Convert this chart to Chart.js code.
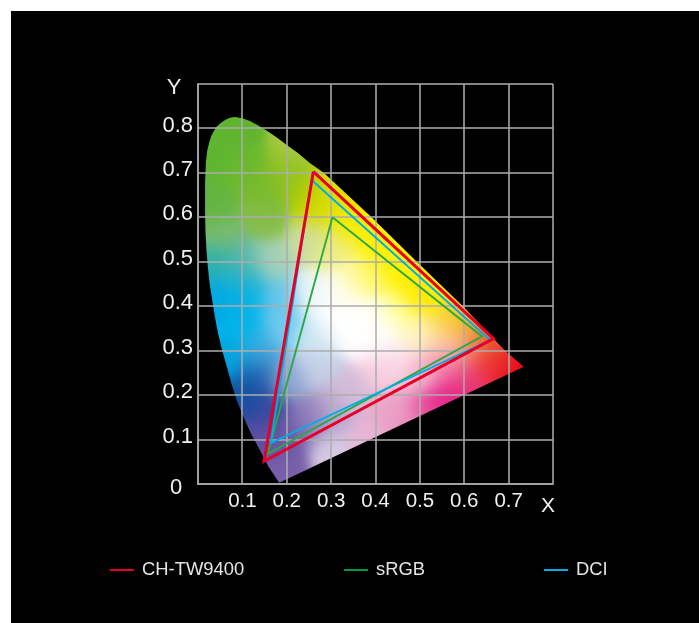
<!DOCTYPE html>
<html>
<head>
<meta charset="utf-8">
<style>
  html, body { margin: 0; padding: 0; background: #fff; overflow: hidden; }
  #frame { position: absolute; left: 11px; top: 11px; width: 688px; height: 612px; background: #000; }
  #chart { position: absolute; left: 0; top: 0; }
  .key { position: absolute; top: 546px; height: 24px; line-height: 24px; color: #e4e4e4; font: 18.4px/24px "Liberation Sans", sans-serif; white-space: nowrap; }
  .key i { position: absolute; left: 0; top: 11.5px; width: 24px; height: 2.4px; }
  .key span { position: absolute; }
</style>
</head>
<body>
<div id="frame">
  <canvas id="chart" width="688" height="612"></canvas>
</div>
<script src="https://cdn.jsdelivr.net/npm/chart.js@4"></script>
<script>
// ── DATA ─────────────────────────────────────────────────────────────────────
const xTicks = ['0.1', '0.2', '0.3', '0.4', '0.5', '0.6', '0.7'];
const yTicks = ['0.1', '0.2', '0.3', '0.4', '0.5', '0.6', '0.7', '0.8'];

const seriesNames = ['CH-TW9400', 'sRGB', 'DCI'];
const twX   = [0.260, 0.666, 0.149, 0.260];
const twY   = [0.703, 0.327, 0.051, 0.703];
const srgbX = [0.303, 0.640, 0.157, 0.303];
const srgbY = [0.600, 0.332, 0.068, 0.600];
const dciX  = [0.256, 0.658, 0.164, 0.256];
const dciY  = [0.684, 0.324, 0.092, 0.684];

// spectral locus outline, clockwise from the blue end
const locusX = [0.183, 0.159, 0.139, 0.119, 0.102, 0.087, 0.075, 0.065, 0.054, 0.045, 0.038, 0.032, 0.026, 0.022, 0.019, 0.017,
                0.016, 0.016, 0.016, 0.018, 0.021, 0.025, 0.029, 0.035, 0.042, 0.051, 0.061, 0.072, 0.083, 0.100, 0.117, 0.135, 0.155, 0.177,
                0.200, 0.225, 0.252, 0.284, 0.391, 0.493, 0.597, 0.692, 0.734];
const locusY = [0.003, 0.039, 0.077, 0.114, 0.152, 0.189, 0.227, 0.264, 0.302, 0.340, 0.377, 0.414, 0.452, 0.490, 0.527, 0.565,
                0.603, 0.640, 0.680, 0.727, 0.751, 0.767, 0.781, 0.793, 0.804, 0.812, 0.819, 0.824, 0.826, 0.823, 0.817, 0.807, 0.795, 0.780,
                0.763, 0.745, 0.722, 0.700, 0.600, 0.500, 0.400, 0.300, 0.264];

// ── STYLE ────────────────────────────────────────────────────────────────────
const seriesColors = ['#e60027', '#2ca845', '#00aee3'];
const seriesWidths = [3, 1.9, 1.9];
const keyColors = ['#e60027', '#009a44', '#00aee3'];
const keyLeft = [99, 333, 533];
const keyGap = [32, 32, 32];
const GRID = 'rgba(172,172,172,0.76)';
const FONT = '"Liberation Sans", sans-serif';

// colour samples of the horseshoe: x, y, hex
const shade = [
  [0.05,0.75,'#5cb531'],[0.03,0.62,'#62b540'],[0.10,0.72,'#6cb92e'],[0.08,0.80,'#5fb52e'],[0.20,0.70,'#8fc31f'],[0.24,0.66,'#a8c90a'],
  [0.15,0.60,'#86bd4a'],[0.15,0.66,'#78ba2e'],[0.05,0.56,'#7dbb70'],[0.27,0.62,'#d8dc00'],[0.22,0.76,'#a5c840'],[0.25,0.55,'#c8dca0'],
  [0.04,0.50,'#25b0b0'],[0.10,0.50,'#5bb9a8'],[0.16,0.50,'#a8d2b8'],[0.10,0.46,'#1cb0d0'],
  [0.05,0.42,'#00a9e5'],[0.11,0.42,'#00b4ea'],[0.10,0.35,'#00b5ea'],[0.18,0.42,'#6ac6ea'],[0.19,0.35,'#70caee'],[0.07,0.28,'#00a5e0'],[0.14,0.30,'#40a8dc'],
  [0.26,0.43,'#e8f4f8'],[0.32,0.36,'#ffffff'],[0.36,0.38,'#ffffff'],[0.26,0.33,'#d4eaf5'],[0.30,0.42,'#ffffff'],[0.40,0.33,'#ffffff'],
  [0.10,0.20,'#0f4fa0'],[0.13,0.24,'#1c5dac'],[0.15,0.17,'#3a479f'],[0.20,0.24,'#8fa5d3'],[0.26,0.27,'#c5cfe6'],[0.14,0.10,'#5d4ea0'],
  [0.20,0.10,'#6b57a5'],[0.19,0.03,'#7a5fab'],[0.25,0.14,'#8b78b6'],[0.30,0.16,'#b5a3d0'],[0.30,0.08,'#d5cbe5'],[0.34,0.20,'#d5bdd9'],
  [0.42,0.26,'#f6c8dc'],[0.50,0.25,'#f6b6d0'],[0.44,0.16,'#eba6c9'],[0.52,0.16,'#e8479a'],[0.56,0.19,'#e61f8a'],[0.60,0.24,'#e9377a'],[0.56,0.27,'#f27aa5'],
  [0.38,0.10,'#e9b5d5'],[0.47,0.13,'#e890bd'],
  [0.65,0.28,'#ea2b3a'],[0.70,0.28,'#e8202a'],[0.73,0.265,'#e60012'],[0.66,0.32,'#ee6030'],[0.61,0.31,'#f6a08c'],[0.62,0.34,'#f09a20'],[0.67,0.31,'#ea3a22'],
  [0.50,0.42,'#ffe900'],[0.41,0.54,'#fff000'],[0.33,0.59,'#f4ec00'],[0.45,0.50,'#fff100'],[0.53,0.44,'#fff000'],[0.60,0.38,'#f6c41b'],[0.56,0.36,'#fad540'],
  [0.45,0.38,'#ffff90'],[0.50,0.34,'#fff3c0'],[0.42,0.35,'#ffffff'],[0.38,0.47,'#fff75a'],[0.34,0.45,'#fffbd0'],[0.44,0.29,'#fde6ef'],[0.56,0.31,'#fbd0c8'],
  [0.30,0.53,'#f0ee80'],[0.30,0.66,'#e0de00']
].map(([x, y, hex]) => [x, y, parseInt(hex.slice(1, 3), 16), parseInt(hex.slice(3, 5), 16), parseInt(hex.slice(5, 7), 16)]);

// ── HORSESHOE FILL ───────────────────────────────────────────────────────────
// blends the colour samples per pixel, in data space, under the grid
const SHADE_SPREAD = 2 * 0.03 * 0.03;

function paintShade(chart) {
  const sx = chart.scales.x, sy = chart.scales.y;
  const w = Math.round(sx.right - sx.left), h = Math.round(sy.bottom - sy.top);
  const off = document.createElement('canvas');
  off.width = w; off.height = h;
  const octx = off.getContext('2d');
  const img = octx.createImageData(w, h);
  for (let py = 0; py < h; py++) {
    const dy = sy.getValueForPixel(sy.top + py);
    for (let px = 0; px < w; px++) {
      const dx = sx.getValueForPixel(sx.left + px);
      let r = 0, g = 0, b = 0, t = 1e-12;
      for (const s of shade) {
        const d2 = (dx - s[0]) * (dx - s[0]) + (dy - s[1]) * (dy - s[1]);
        const k = Math.exp(-d2 / SHADE_SPREAD);
        r += k * s[2]; g += k * s[3]; b += k * s[4]; t += k;
      }
      const o = (py * w + px) * 4;
      img.data[o] = r / t; img.data[o + 1] = g / t; img.data[o + 2] = b / t; img.data[o + 3] = 255;
    }
  }
  octx.putImageData(img, 0, 0);
  return off;
}

const locusFill = {
  id: 'locusFill',
  beforeDraw(chart) {
    const pts = chart.getDatasetMeta(3).data;
    const ctx = chart.ctx;
    ctx.save();
    ctx.beginPath();
    pts.forEach((p, i) => i ? ctx.lineTo(p.x, p.y) : ctx.moveTo(p.x, p.y));
    ctx.closePath();
    ctx.clip();
    ctx.drawImage(paintShade(chart), chart.scales.x.left, chart.scales.y.top);
    ctx.restore();
  }
};

// "0", "Y" and "X" sit off the regular tick rows
const axisEnds = {
  id: 'axisEnds',
  afterDraw(chart) {
    const sx = chart.scales.x, sy = chart.scales.y, ctx = chart.ctx;
    ctx.save();
    ctx.fillStyle = '#f0f0f0';
    ctx.textAlign = 'center';
    ctx.textBaseline = 'middle';
    ctx.font = '22px ' + FONT;
    ctx.fillText('0', sx.left - 22, sy.getPixelForValue(0) + 4);
    ctx.fillText('Y', sx.left - 24, sy.getPixelForValue(0.9) + 4);
    ctx.font = '21px ' + FONT;
    ctx.fillText('X', sx.getPixelForValue(0.8) - 5, sy.bottom + 22);
    ctx.restore();
  }
};

// ── CHART ────────────────────────────────────────────────────────────────────
const zip = (xs, ys) => xs.map((x, i) => ({ x, y: ys[i] }));
const triangle = (i, xs, ys) => ({
  label: seriesNames[i],
  data: zip(xs, ys),
  showLine: true,
  borderColor: seriesColors[i],
  borderWidth: seriesWidths[i],
  borderJoinStyle: 'miter',
  pointRadius: 0,
  clip: false,
});

new Chart(document.getElementById('chart'), {
  type: 'scatter',
  data: {
    datasets: [
      triangle(0, twX, twY),
      triangle(2, dciX, dciY),
      triangle(1, srgbX, srgbY),
      { label: 'locus', data: zip(locusX, locusY), showLine: false, pointRadius: 0 },
    ]
  },
  plugins: [locusFill, axisEnds],
  options: {
    responsive: false,
    animation: false,
    layout: { padding: { top: 73, right: 146, left: 0, bottom: 0 } },
    plugins: { legend: { display: false }, tooltip: { enabled: false } },
    scales: {
      x: {
        type: 'linear', min: 0, max: 0.8,
        afterFit: s => { s.height = 139; },
        grid: { color: GRID, lineWidth: 2, drawTicks: false },
        border: { color: GRID, width: 2 },
        ticks: {
          stepSize: 0.1, autoSkip: false, maxRotation: 0, padding: 5, color: '#f0f0f0',
          font: { family: FONT, size: 20.5 },
          callback: v => xTicks[Math.round(v * 10) - 1] || '',
        },
      },
      y: {
        type: 'linear', min: 0, max: 0.9,
        afterFit: s => { s.width = 187; },
        grid: { color: GRID, lineWidth: 2, drawTicks: false },
        border: { color: GRID, width: 2 },
        ticks: {
          stepSize: 0.1, autoSkip: false, padding: 5, crossAlign: 'center', labelOffset: -3, color: '#f0f0f0',
          font: { family: FONT, size: 22 },
          callback: v => yTicks[Math.round(v * 10) - 1] || '',
        },
      },
    },
  },
});

// ── LEGEND ───────────────────────────────────────────────────────────────────
const frame = document.getElementById('frame');
seriesNames.forEach((name, i) => {
  const key = document.createElement('div');
  key.className = 'key';
  key.style.left = keyLeft[i] + 'px';
  key.innerHTML = '<i style="background:' + keyColors[i] + '"></i><span style="left:' + keyGap[i] + 'px">' + name + '</span>';
  frame.appendChild(key);
});
</script>
</body>
</html>
